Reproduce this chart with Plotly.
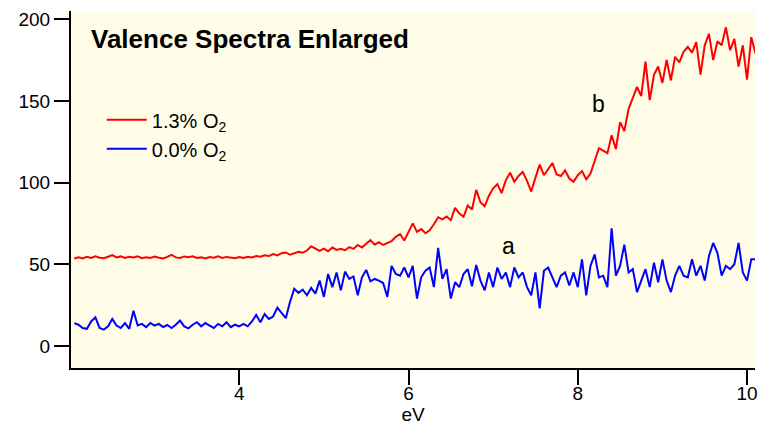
import numpy as np
import plotly.graph_objects as go

# Photon energy grid (eV), 0.05 eV steps
ev_start = 2.05
ev_step = 0.05

# Valence band intensity, 1.3% O2 sample
spectrum_o2_13 = [
    53.5, 54.2, 53.6, 54.5, 53.8, 54.8, 54.0, 53.7, 54.6, 55.6,
    54.2, 54.8, 53.9, 54.6, 54.1, 54.9, 53.7, 54.3, 53.8, 54.7,
    54.0, 53.6, 54.5, 55.8, 54.2, 53.9, 54.8, 54.3, 54.9, 53.8,
    54.2, 53.6, 54.4, 54.0, 54.8, 53.9, 54.5, 54.1, 53.7, 54.4,
    53.8, 54.6, 54.2, 55.0, 54.6, 55.5, 55.0, 56.2, 55.4, 56.8,
    57.2, 55.8, 56.5, 57.6, 57.0, 58.4, 61.0, 59.6, 58.2, 59.5,
    58.0, 60.2, 58.8, 59.5, 58.6, 60.5, 59.4, 61.8, 60.2, 62.5,
    64.8, 62.0, 63.5, 61.8, 63.0, 64.2, 66.8, 68.5, 64.5, 70.2,
    75.0, 69.8, 71.5, 69.0, 70.8, 74.5, 78.8, 77.5, 79.2, 77.0,
    84.5, 81.2, 79.0, 86.0, 83.5, 95.5, 88.0, 85.5, 92.0, 96.5,
    99.0, 93.5, 101.5, 106.0, 100.5, 104.0, 106.5, 101.0, 94.5, 103.0,
    111.0, 104.5, 108.0, 112.0, 105.0, 104.0, 107.5, 102.5, 100.5, 104.5,
    107.0, 102.0, 105.5, 114.0, 121.0, 119.5, 118.0, 129.0, 120.5, 137.0,
    131.5, 145.0, 152.0, 158.5, 153.0, 174.0, 150.5, 166.0, 171.0, 161.0,
    175.0, 162.5, 177.0, 173.5, 180.0, 183.0, 179.5, 186.0, 166.0, 184.0,
    191.0, 175.0, 186.5, 184.0, 195.0, 181.0, 188.0, 171.0, 184.0, 163.0,
    189.0, 179.0,
]

# Valence band intensity, 0.0% O2 sample
spectrum_o2_00 = [
    14.0, 13.0, 11.0, 10.5, 15.0, 17.5, 11.0, 10.0, 12.0, 16.5,
    12.5, 11.0, 14.0, 10.5, 21.5, 12.5, 13.5, 11.5, 14.0, 12.5,
    13.5, 11.5, 12.8, 11.0, 13.0, 15.5, 12.0, 10.8, 13.0, 14.5,
    12.0, 14.0, 12.5, 11.0, 13.5, 12.0, 14.5, 11.5, 13.0, 12.0,
    13.5, 12.0, 15.0, 19.0, 14.5, 19.5, 16.5, 18.0, 23.5, 20.5,
    17.0, 27.0, 35.0, 32.5, 34.5, 31.0, 35.5, 32.0, 40.0, 30.0,
    44.0, 36.0, 45.0, 34.0, 45.5, 41.0, 42.5, 31.0, 42.0, 46.5,
    39.5, 41.0, 40.0, 38.5, 30.0, 49.0, 44.0, 43.0, 48.0, 42.0,
    49.0, 29.0, 42.0, 46.0, 48.0, 36.0, 60.0, 41.0, 47.0, 29.0,
    39.0, 36.0, 44.0, 47.0, 36.5, 49.5, 40.0, 34.0, 45.0, 36.0,
    48.0, 41.0, 45.0, 36.0, 48.0, 42.0, 45.0, 36.0, 31.0, 45.0,
    23.0, 46.0, 48.0, 42.0, 36.0, 43.0, 45.0, 37.0, 45.0, 36.0,
    53.0, 31.0, 49.0, 56.0, 42.0, 43.0, 36.0, 72.0, 43.0, 49.0,
    62.0, 45.0, 47.0, 33.0, 40.0, 47.0, 36.0, 51.0, 39.0, 53.0,
    40.0, 33.0, 43.0, 49.0, 43.0, 42.0, 53.0, 43.0, 49.0, 40.0,
    55.0, 63.0, 57.0, 43.0, 49.0, 47.0, 50.0, 63.0, 45.0, 40.0,
    53.0, 53.0,
]

x_ticks = [4, 6, 8, 10]
y_ticks = [0, 50, 100, 150, 200]

ev = np.round(ev_start + ev_step * np.arange(len(spectrum_o2_13)), 2)

FONT = "Arial, Liberation Sans, sans-serif"

fig = go.Figure()
fig.add_trace(go.Scatter(
    x=ev, y=spectrum_o2_13, mode="lines", name="1.3% O<sub>2</sub>",
    line=dict(color="#FF0000", width=2),
))
fig.add_trace(go.Scatter(
    x=ev, y=spectrum_o2_00, mode="lines", name="0.0% O<sub>2</sub>",
    line=dict(color="#0000FF", width=2),
))

axis_common = dict(
    showline=True, linecolor="black", linewidth=2,
    ticks="outside", ticklen=15, tickwidth=2, tickcolor="black",
    showgrid=False, zeroline=False,
    ticklabeloverflow="allow",
    tickfont=dict(family=FONT, size=19, color="black"),
)

fig.update_layout(
    width=758, height=432,
    margin=dict(l=71, r=0, t=11, b=64),
    paper_bgcolor="white",
    plot_bgcolor="#FFFDE7",
    font=dict(family=FONT, size=19, color="black"),
    xaxis=dict(range=[2.012, 10.094], tickvals=x_ticks,
               ticklabelstandoff=-8,
               title=dict(text="eV", font=dict(family=FONT, size=19), standoff=0),
               **axis_common),
    yaxis=dict(range=[-13.5, 205], tickvals=y_ticks, **axis_common),
    legend=dict(x=0.045, y=0.75, xanchor="left", yanchor="top",
                bgcolor="rgba(0,0,0,0)", font=dict(family=FONT, size=20),
                itemwidth=40, tracegroupgap=0),
    showlegend=True,
)

fig.add_annotation(
    text="<b>Valence Spectra Enlarged</b>", xref="paper", yref="paper",
    x=0.026, y=0.922, xanchor="left", yanchor="middle", showarrow=False,
    font=dict(family=FONT, size=26, color="black"),
)
fig.add_annotation(text="a", x=7.18, y=61, showarrow=False,
                   font=dict(family=FONT, size=23, color="black"))
fig.add_annotation(text="b", x=8.24, y=148, showarrow=False,
                   font=dict(family=FONT, size=23, color="black"))

fig.write_html("out.html")
